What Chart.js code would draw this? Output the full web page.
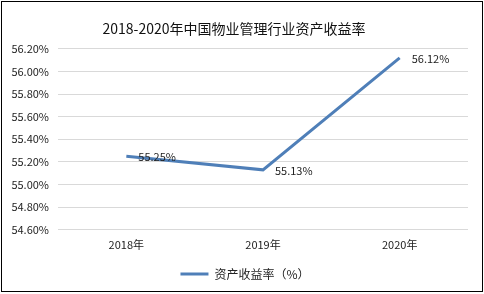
<!DOCTYPE html>
<html lang="zh">
<head>
  <meta charset="UTF-8">
  <title>2018-2020年中国物业管理行业资产收益率</title>
  <script src="https://cdn.jsdelivr.net/npm/chart.js"></script>
  <style>
    body { margin: 0; background: #fff; }
    #wrap { width: 484px; height: 294px; }
  </style>
</head>
<body>
  <div id="wrap"><canvas id="roaChart" width="484" height="294"></canvas></div>

  <script>
    const years = ['2018年', '2019年', '2020年'];
    const roa = [55.25, 55.13, 56.12];
    const roaLabels = ['55.25%', '55.13%', '56.12%'];
    const seriesName = '资产收益率（%）';

    const cjk = '"Noto Sans CJK SC", "Noto Sans", sans-serif';

    // frame around the whole picture, like the exported chart
    const framePlugin = {
      id: 'frame',
      beforeDraw(chart) {
        const ctx = chart.ctx;
        ctx.save();
        ctx.fillStyle = '#fff';
        ctx.fillRect(0, 0, chart.width, chart.height);
        ctx.strokeStyle = '#000';
        ctx.lineWidth = 1;
        ctx.strokeRect(1.5, 1.5, 481, 290);
        ctx.restore();
      },
      // nudge the legend a little right, as in the original
      afterLayout(chart) {
        chart.legend.left += 11;
        chart.legend.right += 11;
      }
    };

    // value labels to the right of each point
    const valueLabels = {
      id: 'valueLabels',
      afterDatasetsDraw(chart) {
        const ctx = chart.ctx;
        const meta = chart.getDatasetMeta(0);
        ctx.save();
        ctx.font = '11px ' + cjk;
        ctx.fillStyle = '#222';
        ctx.textAlign = 'left';
        ctx.textBaseline = 'middle';
        meta.data.forEach((pt, i) => {
          ctx.fillText(roaLabels[i], pt.x + 12, pt.y + 1);
        });
        ctx.restore();
      }
    };

    new Chart(document.getElementById('roaChart'), {
      type: 'line',
      data: {
        labels: years,
        datasets: [{
          label: seriesName,
          data: roa,
          borderColor: '#4f7fb8',
          backgroundColor: '#4f7fb8',
          borderWidth: 3,
          pointRadius: 0,
          tension: 0
        }]
      },
      options: {
        responsive: false,
        animation: false,
        layout: { padding: { left: 0, right: 16, top: 0, bottom: 4 } },
        plugins: {
          title: {
            display: true,
            text: '2018-2020年中国物业管理行业资产收益率',
            color: '#111',
            font: { family: cjk, size: 14, weight: 'normal' },
            padding: { top: 20, bottom: 12 }
          },
          legend: {
            position: 'bottom',
            labels: {
              usePointStyle: true,
              pointStyle: 'line',
              pointStyleWidth: 28,
              color: '#222',
              font: { family: cjk, size: 12 },
              padding: 9
            }
          },
          tooltip: { enabled: false }
        },
        scales: {
          x: {
            offset: true,
            afterFit(scale) { scale.height += 8; },
            grid: { display: false },
            border: { display: false },
            ticks: { color: '#222', font: { family: cjk, size: 11 }, padding: 0 }
          },
          y: {
            min: 54.6,
            max: 56.2,
            afterFit(scale) { scale.width = 58; },
            grid: { color: '#d9d9d9', drawTicks: false },
            border: { display: false },
            ticks: {
              stepSize: 0.2,
              padding: 9,
              color: '#222',
              font: { family: cjk, size: 11 },
              callback: v => v.toFixed(2) + '%'
            }
          }
        }
      },
      plugins: [framePlugin, valueLabels]
    });
  </script>
</body>
</html>
